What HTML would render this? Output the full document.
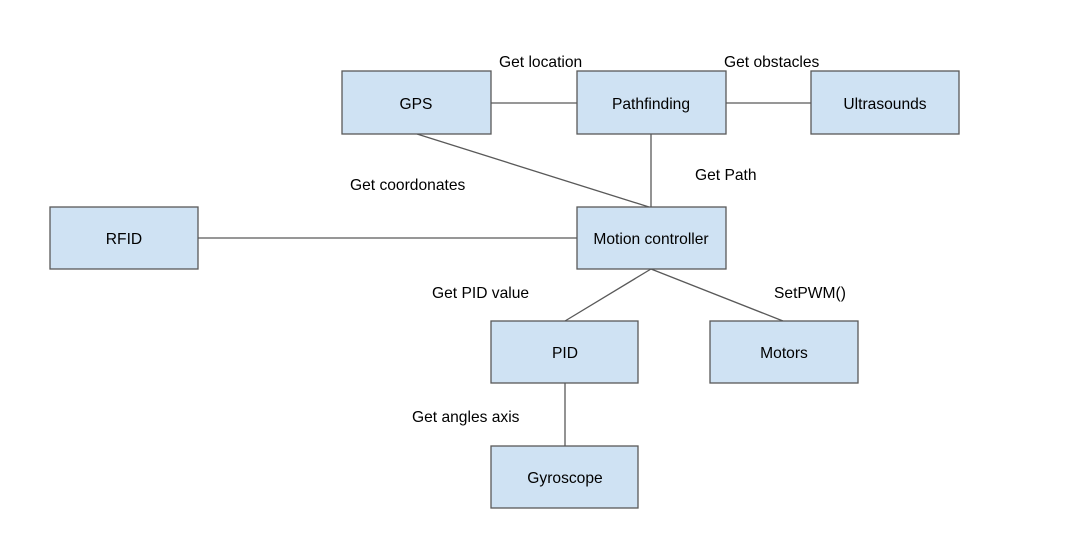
<!DOCTYPE html>
<html><head><style>body{margin:0;background:#fff}svg{display:block}text{font-family:"Liberation Sans",Arial,sans-serif;font-size:15.6px;fill:#000}</style></head>
<body>
<svg width="1067" height="551" viewBox="0 0 1067 551">
<g stroke="#595959" stroke-width="1.3" fill="none">
<line x1="491" y1="103" x2="577" y2="103"/>
<line x1="726" y1="103" x2="811" y2="103"/>
<line x1="651" y1="134" x2="651" y2="207"/>
<line x1="417" y1="134" x2="649" y2="207"/>
<line x1="198" y1="238" x2="577" y2="238"/>
<line x1="651" y1="269" x2="565" y2="321"/>
<line x1="651" y1="269" x2="783" y2="321"/>
<line x1="565" y1="383" x2="565" y2="446"/>
</g>
<g fill="#cfe2f3" stroke="#595959" stroke-width="1.3">
<rect x="342" y="71" width="149" height="63"/>
<rect x="577" y="71" width="149" height="63"/>
<rect x="811" y="71" width="148" height="63"/>
<rect x="50" y="207" width="148" height="62"/>
<rect x="577" y="207" width="149" height="62"/>
<rect x="491" y="321" width="147" height="62"/>
<rect x="710" y="321" width="148" height="62"/>
<rect x="491" y="446" width="147" height="62"/>
</g>
<g text-anchor="middle">
<text x="416" y="109">GPS</text>
<text x="651" y="109">Pathfinding</text>
<text x="885" y="109">Ultrasounds</text>
<text x="124" y="244">RFID</text>
<text x="651" y="244">Motion controller</text>
<text x="565" y="358">PID</text>
<text x="784" y="358">Motors</text>
<text x="565" y="483">Gyroscope</text>
</g>
<text x="499" y="67">Get location</text>
<text x="724" y="67">Get obstacles</text>
<text x="350" y="190">Get coordonates</text>
<text x="695" y="180">Get Path</text>
<text x="432" y="298">Get PID value</text>
<text x="774" y="298">SetPWM()</text>
<text x="412" y="422">Get angles axis</text>
</svg>
</body></html>
